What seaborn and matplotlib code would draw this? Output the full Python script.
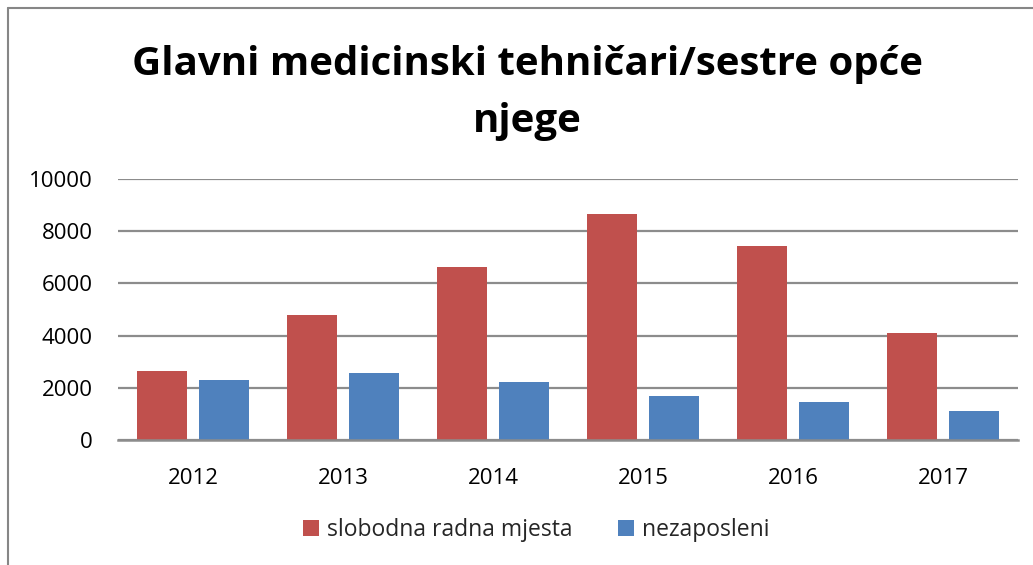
import matplotlib
matplotlib.use("Agg")
import matplotlib.pyplot as plt
import seaborn as sns
import pandas as pd
from matplotlib.lines import Line2D

years = ["2012", "2013", "2014", "2015", "2016", "2017"]
slobodna = [2660, 4780, 6640, 8650, 7420, 4090]
nezaposleni = [2280, 2560, 2220, 1700, 1440, 1110]
series_names = ["slobodna radna mjesta", "nezaposleni"]
yticks = [0, 2000, 4000, 6000, 8000, 10000]
title = "Glavni medicinski tehničari/sestre opće\nnjege"

df = pd.DataFrame({
    "year": years * 2,
    "value": slobodna + nezaposleni,
    "series": [series_names[0]] * len(years) + [series_names[1]] * len(years),
})

sns.set_theme(style="white")
plt.rcParams["font.family"] = ["Open Sans", "DejaVu Sans"]

W, H = 1033, 565
fig = plt.figure(figsize=(W / 100, H / 100), dpi=100)
ax = fig.add_axes([118 / W, 1 - 440 / H, 900 / W, 261 / H])

palette = {series_names[0]: "#C0504D", series_names[1]: "#4F81BD"}
sns.barplot(data=df, x="year", y="value", hue="series", palette=palette,
            width=0.836, gap=0.2, saturation=1, ax=ax, legend=True,
            edgecolor="none")

ax.set_ylim(0, 10000)
ax.set_xlim(-0.5, 5.5)
ax.set_yticks(yticks)
ax.set_yticklabels([str(v) for v in yticks])
ax.yaxis.grid(True, color="#8C8C8C", linewidth=1.6)
ax.set_axisbelow(True)
for s in ["top", "right", "left"]:
    ax.spines[s].set_visible(False)
ax.spines["bottom"].set_color("#8C8C8C")
ax.spines["bottom"].set_linewidth(1.8)
ax.tick_params(axis="both", length=0, labelsize=16, colors="#000000")
ax.tick_params(axis="y", pad=18)
ax.tick_params(axis="x", pad=20)
ax.set_xlabel("")
ax.set_ylabel("")

leg = ax.legend(loc="center", bbox_to_anchor=(536 / W, 1 - 530 / H),
                bbox_transform=fig.transFigure, ncol=2, frameon=False,
                fontsize=16.5, handlelength=0.7, handleheight=0.7,
                handletextpad=0.35, columnspacing=2.0)

fig.text(527 / W, 1 - 93 / H, title, ha="center", va="center",
         fontsize=29, fontweight="bold", linespacing=1.6, color="#000000")

fig.add_artist(Line2D([8 / W, 1], [1 - 8 / H, 1 - 8 / H], transform=fig.transFigure,
                      color="#868686", linewidth=1.5))
fig.add_artist(Line2D([8 / W, 8 / W], [0, 1 - 8 / H], transform=fig.transFigure,
                      color="#868686", linewidth=1.5))

fig.savefig("out.png", dpi=100, facecolor="white")
